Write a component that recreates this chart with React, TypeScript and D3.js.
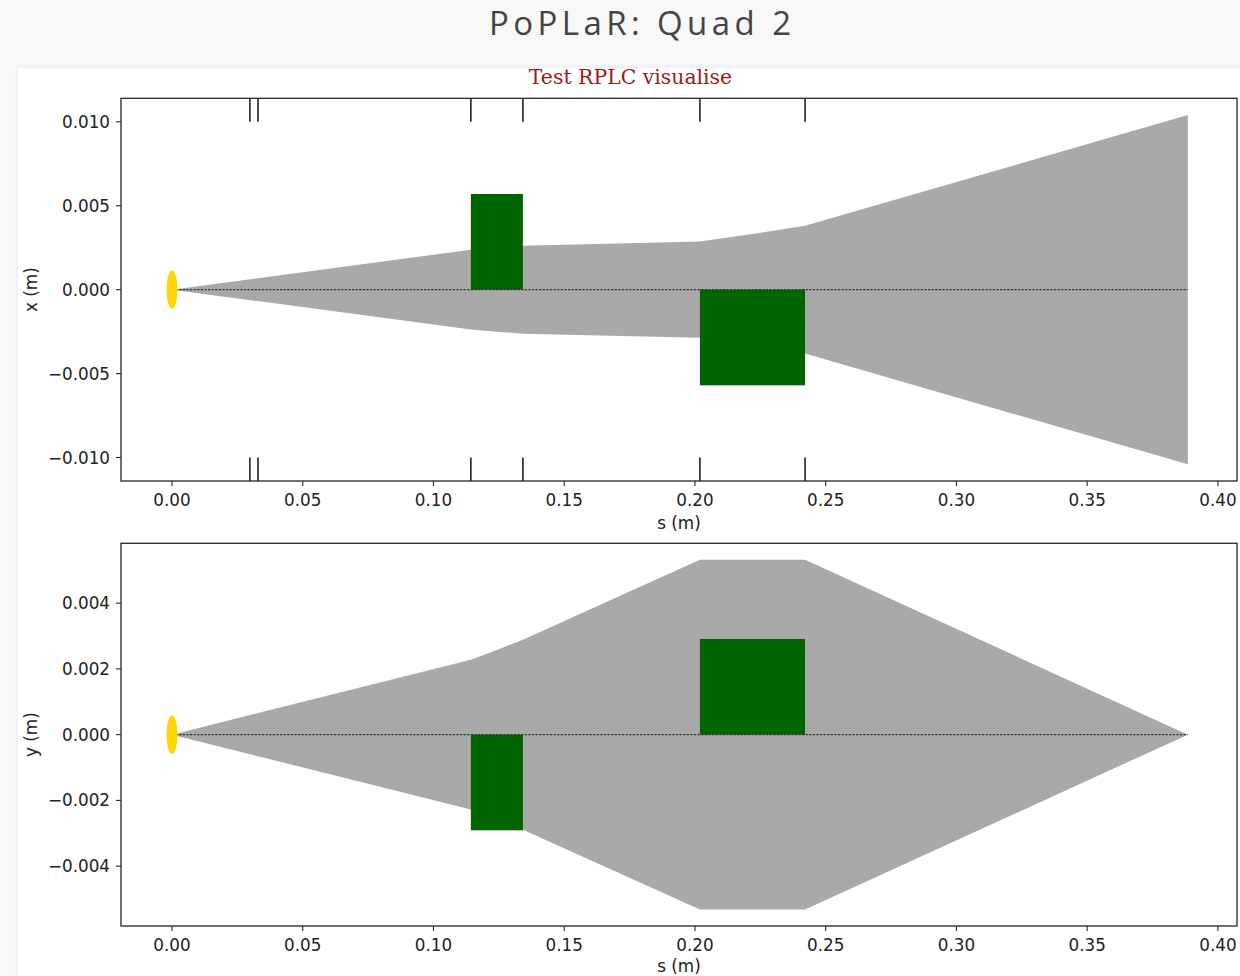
import React from "react";
import * as d3 from "d3";

// Beamline layout (metres along s)
const elementEdges = [0.0298, 0.0329, 0.1143, 0.1342, 0.2019, 0.2421];
const quadNames = ["Q1", "Q2"];
const quadStart = [0.1143, 0.2019];
const quadEnd = [0.1342, 0.2421];

// Beam envelope half-widths in x and y sampled along s
const envS = [0, 0.1143, 0.124, 0.1342, 0.2019, 0.222, 0.2421, 0.3885];
const envX = [0, 0.00238, 0.00251, 0.00262, 0.00287, 0.00331, 0.00381, 0.0104];
const envYS = [0, 0.1143, 0.124, 0.1342, 0.2019, 0.2421, 0.3885];
const envY = [0, 0.00228, 0.00257, 0.00289, 0.00532, 0.00532, 0];

// Quad symbols: signed heights (focusing sign per plane)
const quadHeightX = [0.0057, -0.0057];
const quadHeightY = [-0.00291, 0.00291];

// Axis limits and ticks
const sDomain = [-0.0195, 0.4073];
const sTicks = [0, 0.05, 0.1, 0.15, 0.2, 0.25, 0.3, 0.35, 0.4];
const xLim = 0.0114;
const xTicks = [-0.01, -0.005, 0, 0.005, 0.01];
const yLim = 0.00582;
const yTicks = [-0.004, -0.002, 0, 0.002, 0.004];
const sourceHalfWidth = 0.0021;

const W = 1240;
const H = 976;
const LEFT = 121;
const RIGHT = 1237;

const fmt = (v: number, d: number) => {
  const s = Math.abs(v).toFixed(d);
  return (v < 0 ? "\u2212" : "") + s;
};

type PanelProps = {
  top: number;
  bottom: number;
  lim: number;
  ticks: number[];
  envS: number[];
  env: number[];
  quadH: number[];
  label: string;
  markers: boolean;
  sLabelDy: number;
};

function Panel(p: PanelProps) {
  const sx = d3.scaleLinear().domain(sDomain).range([LEFT, RIGHT]);
  const sy = d3.scaleLinear().domain([-p.lim, p.lim]).range([p.bottom, p.top]);
  const pts = p.envS.map((s, i) => ({ s, v: p.env[i] }));
  const area = d3
    .area<{ s: number; v: number }>()
    .x((d) => sx(d.s))
    .y0((d) => sy(-d.v))
    .y1((d) => sy(d.v));
  const sEnd = p.envS[p.envS.length - 1];
  const axisColor = "#262626";
  const font = "DejaVu Sans, sans-serif";
  const fs = 16.8;
  return (
    <g>
      <path d={area(pts) || ""} fill="#a9a9a9" />
      {quadStart.map((s0, i) => {
        const h = p.quadH[i];
        const y0 = sy(Math.max(0, h));
        const y1 = sy(Math.min(0, h));
        return (
          <rect
            key={quadNames[i]}
            x={sx(s0)}
            y={y0}
            width={sx(quadEnd[i]) - sx(s0)}
            height={y1 - y0}
            fill="#006400"
          />
        );
      })}
      <line
        x1={sx(0)}
        x2={sx(sEnd)}
        y1={sy(0)}
        y2={sy(0)}
        stroke="#333"
        strokeWidth={1.2}
        strokeDasharray="2.2,1.4"
      />
      <ellipse
        cx={sx(0)}
        cy={sy(0)}
        rx={sx(sourceHalfWidth) - sx(0)}
        ry={sy(0) - sy(p.lim / 10)}
        fill="#ffd700"
      />
      {p.markers &&
        elementEdges.map((s, i) => (
          <g key={"m" + i}>
            <line x1={sx(s)} x2={sx(s)} y1={sy(p.lim)} y2={sy(0.01)} stroke="#111" strokeWidth={1.5} />
            <line x1={sx(s)} x2={sx(s)} y1={sy(-0.01)} y2={sy(-p.lim)} stroke="#111" strokeWidth={1.5} />
          </g>
        ))}
      <rect
        x={LEFT}
        y={p.top}
        width={RIGHT - LEFT}
        height={p.bottom - p.top}
        fill="none"
        stroke={axisColor}
        strokeWidth={1.3}
      />
      {sTicks.map((t) => (
        <g key={"s" + t}>
          <line x1={sx(t)} x2={sx(t)} y1={p.bottom} y2={p.bottom + 5} stroke={axisColor} strokeWidth={1.1} />
          <text
            x={sx(t)}
            y={p.bottom + 25}
            textAnchor="middle"
            fontFamily={font}
            fontSize={fs}
            fill="#222"
          >
            {fmt(t, 2)}
          </text>
        </g>
      ))}
      {p.ticks.map((t) => (
        <g key={"y" + t}>
          <line x1={LEFT - 5} x2={LEFT} y1={sy(t)} y2={sy(t)} stroke={axisColor} strokeWidth={1.1} />
          <text
            x={LEFT - 11}
            y={sy(t)}
            dy="0.36em"
            textAnchor="end"
            fontFamily={font}
            fontSize={fs}
            fill="#222"
          >
            {fmt(t, 3)}
          </text>
        </g>
      ))}
      <text
        x={(LEFT + RIGHT) / 2}
        y={p.bottom + p.sLabelDy}
        textAnchor="middle"
        fontFamily={font}
        fontSize={fs}
        fill="#222"
      >
        s (m)
      </text>
      <text
        transform={`translate(37,${sy(0)}) rotate(-90)`}
        textAnchor="middle"
        fontFamily={font}
        fontSize={fs}
        fill="#222"
      >
        {p.label}
      </text>
    </g>
  );
}

export default function App() {
  return (
    <div style={{ position: "absolute", left: 0, top: 0 }}>
      <svg width={W} height={H} viewBox={`0 0 ${W} ${H}`} style={{ display: "block" }}>
        <defs>
          <filter id="cardShadow" x="-5%" y="-5%" width="110%" height="110%">
            <feDropShadow dx="0" dy="0" stdDeviation="2" floodColor="#000" floodOpacity="0.08" />
          </filter>
        </defs>
        <rect x={0} y={0} width={W} height={H} fill="#f8f8f8" />
        <rect x={18} y={68} width={W} height={H} fill="#ffffff" filter="url(#cardShadow)" />
        <text
          x={640}
          y={35}
          textAnchor="middle"
          fontFamily="Open Sans, sans-serif"
          fontSize={33}
          fill="#444"
          textLength={302}
          lengthAdjust="spacing"
        >
          PoPLaR: Quad 2
        </text>
        <text
          x={630.5}
          y={84}
          textAnchor="middle"
          fontFamily="DejaVu Serif, serif"
          fontSize={20.4}
          fill="#9b1b1b"
        >
          Test RPLC visualise
        </text>
        <Panel
          top={98.3}
          bottom={481}
          lim={xLim}
          ticks={xTicks}
          envS={envS}
          env={envX}
          quadH={quadHeightX}
          label="x (m)"
          markers={true}
          sLabelDy={48}
        />
        <Panel
          top={543.3}
          bottom={926}
          lim={yLim}
          ticks={yTicks}
          envS={envYS}
          env={envY}
          quadH={quadHeightY}
          label="y (m)"
          markers={false}
          sLabelDy={46}
        />
      </svg>
    </div>
  );
}
